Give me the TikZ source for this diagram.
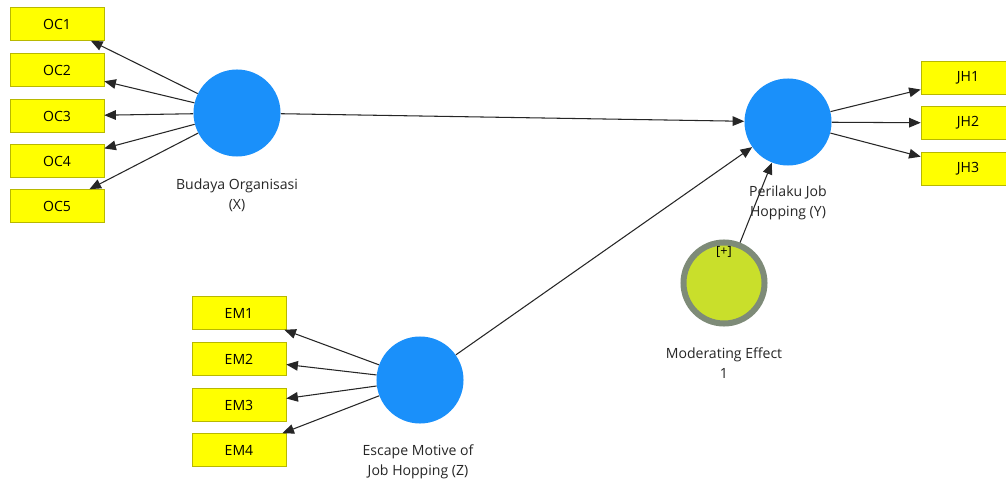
\documentclass[tikz,border=0pt]{standalone}
\usepackage{fontspec}
\setmainfont{Open Sans}
\usetikzlibrary{arrows.meta}
\definecolor{lvblue}{HTML}{1A90FA}
\definecolor{indyellow}{HTML}{FFFF00}
\definecolor{indborder}{HTML}{B8B800}
\definecolor{modfill}{HTML}{C9DF2B}
\definecolor{modborder}{HTML}{7E8B78}
\definecolor{linkgray}{HTML}{262626}
\tikzset{
  indbox/.style={draw=indborder,fill=indyellow,minimum width=2.35cm,minimum height=0.825cm,inner sep=0pt,font=\fontsize{10}{12}\selectfont},
  lv/.style={circle,fill=lvblue,minimum size=2.175cm,inner sep=0pt},
  modlv/.style={circle,fill=modfill,draw=modborder,line width=0.15cm,minimum size=2.025cm,inner sep=0pt},
  lvlabel/.style={align=center,font=\fontsize{10}{14}\selectfont,text=black!85},
  link/.style={draw=linkgray,line width=0.75pt,-{Triangle[length=2.9mm,width=2.4mm]}}
}
\begin{document}
\begin{tikzpicture}[x=0.025cm,y=-0.025cm]
    \useasboundingbox (0,0) rectangle (1006,485);
    \fill[white] (0,0) rectangle (1006,485);
    \clip (0,0) rectangle (1006,485);
    % latent variables
    \node[lv] (budaya) at (237,113) {};
    \node[lv] (perilaku) at (788,122) {};
    \node[lv] (escape) at (420,380) {};
    \node[modlv] (moder) at (724,283) {};
    \node[font=\fontsize{9}{10}\selectfont] (plus) at (724,252) {[+]};
    % labels
    \node[lvlabel] (budayalbl) at (237,195) {Budaya Organisasi\\(X)};
    \node[lvlabel] (perilakulbl) at (788,203) {Perilaku Job\\Hopping (Y)};
    \node[lvlabel] (escapelbl) at (418,462) {Escape Motive of\\Job Hopping (Z)};
    \node[lvlabel] (moderlbl) at (724,363) {Moderating Effect\\1};
    % indicators
    \foreach \i/\y in {1/24,2/70,3/116,4/161,5/206}
        \node[indbox] (oc\i) at (57,\y) {OC\i};
    \foreach \i/\y in {1/313,2/359,3/405,4/450}
        \node[indbox] (em\i) at (239,\y) {EM\i};
    \foreach \i/\y in {1/78,2/123,3/169}
        \node[indbox] (jh\i) at (968,\y) {JH\i};
    % outer paths
    \foreach \i in {1,...,5}
        \draw[link] (budaya) -- (oc\i);
    \foreach \i in {1,...,4}
        \draw[link] (escape) -- (em\i);
    \foreach \i in {1,...,3}
        \draw[link] (perilaku) -- (jh\i);
    % inner paths
    \draw[link] (budaya) -- (perilaku);
    \draw[link] (escape) -- (perilaku);
    \draw[link] (moder) -- (perilaku);
\end{tikzpicture}
\end{document}
